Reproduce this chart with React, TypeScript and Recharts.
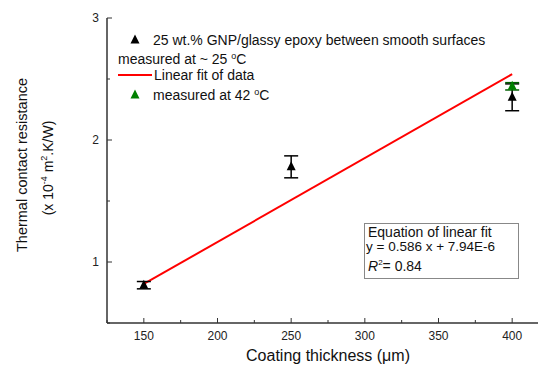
import {
  ComposedChart,
  ErrorBar,
  Line,
  Scatter,
  XAxis,
  YAxis,
} from "recharts";

const smooth25 = [
  { x: 150, y: 0.81, err: 0.03 },
  { x: 250, y: 1.78, err: 0.09 },
  { x: 400, y: 2.35, err: 0.11 },
];
const measured42 = [{ x: 400, y: 2.44, err: 0.03 }];
const fitLine = [
  { x: 150, y: 0.82 },
  { x: 400, y: 2.54 },
];

const xTicks = [125, 150, 175, 200, 225, 250, 275, 300, 325, 350, 375, 400, 425];
const xLabels = [150, 200, 250, 300, 350, 400];
const yTicks = [0.5, 1, 1.5, 2, 2.5, 3];
const yLabels = [1, 2, 3];

const FONT = "'Liberation Sans', Arial, sans-serif";
const AXIS = "#333";

const triangle = (color: string) => (props: any) => {
  const { cx, cy } = props;
  if (cx == null || cy == null) return <g />;
  return (
    <polygon
      points={`${cx},${cy - 5.5} ${cx - 4.5},${cy + 3.5} ${cx + 4.5},${cy + 3.5}`}
      fill={color}
    />
  );
};

const XTick = (props: any) => {
  const { x, y, payload } = props;
  const major = xLabels.includes(payload.value);
  return (
    <g>
      <line x1={x} x2={x} y1={y} y2={y - (major ? 5 : 3)} stroke={AXIS} />
      {major && (
        <text x={x} y={y + 17} textAnchor="middle" fontSize={12} fill="#222" fontFamily={FONT}>
          {payload.value}
        </text>
      )}
    </g>
  );
};

const YTick = (props: any) => {
  const { x, y, payload } = props;
  const major = yLabels.includes(payload.value);
  return (
    <g>
      <line x1={x} x2={x + (major ? 5 : 3)} y1={y} y2={y} stroke={AXIS} />
      {major && (
        <text x={x - 8} y={y + 4} textAnchor="end" fontSize={12} fill="#222" fontFamily={FONT}>
          {payload.value}
        </text>
      )}
    </g>
  );
};

export default function App() {
  return (
    <div
      style={{
        position: "absolute",
        left: 0,
        top: 0,
        width: 538,
        height: 367,
        overflow: "hidden",
        background: "#fff",
      }}
    >
      <ComposedChart
        width={560}
        height={367}
        margin={{ top: 18, right: 11, bottom: 0, left: 0 }}
      >
        <XAxis
          xAxisId="b"
          dataKey="x"
          type="number"
          domain={[125, 425]}
          ticks={xTicks}
          interval={0}
          tick={<XTick />}
          tickLine={false}
          tickSize={0}
          tickMargin={0}
          height={44}
          stroke={AXIS}
          strokeWidth={1.5}
        />
        <XAxis
          xAxisId="t"
          orientation="top"
          dataKey="x"
          type="number"
          domain={[125, 425]}
          tick={false}
          tickLine={false}
          height={0}
          stroke={AXIS}
          strokeWidth={1.5}
        />
        <YAxis
          yAxisId="l"
          type="number"
          domain={[0.5, 3]}
          ticks={yTicks}
          interval={0}
          tick={<YTick />}
          tickLine={false}
          tickSize={0}
          tickMargin={0}
          width={107}
          stroke={AXIS}
          strokeWidth={1.5}
        />
        <YAxis
          yAxisId="r"
          orientation="right"
          type="number"
          domain={[0.5, 3]}
          tick={false}
          tickLine={false}
          width={0}
          stroke={AXIS}
          strokeWidth={1.5}
        />
        <Line
          xAxisId="b"
          yAxisId="l"
          data={fitLine}
          dataKey="y"
          stroke="#ff0000"
          strokeWidth={2}
          dot={false}
          isAnimationActive={false}
        />
        <Scatter
          xAxisId="b"
          yAxisId="l"
          data={smooth25}
          dataKey="y"
          fill="#000"
          shape={triangle("#000")}
          isAnimationActive={false}
        >
          <ErrorBar dataKey="err" direction="y" width={7} stroke="#000" strokeWidth={1.5} />
        </Scatter>
        <Scatter
          xAxisId="b"
          yAxisId="l"
          data={measured42}
          dataKey="y"
          fill="#008000"
          shape={triangle("#008000")}
          isAnimationActive={false}
        >
          <ErrorBar dataKey="err" direction="y" width={7} stroke="#006000" strokeWidth={1.5} />
        </Scatter>
      </ComposedChart>

      <svg
        width={538}
        height={367}
        style={{ position: "absolute", left: 0, top: 0, pointerEvents: "none" }}
        fontFamily={FONT}
        fill="#111"
      >
        {/* legend */}
        <polygon points="135,34.5 130.5,43.5 139.5,43.5" fill="#000" />
        <text x={153} y={45} fontSize={14}>
          25 wt.% GNP/glassy epoxy between smooth surfaces
        </text>
        <text x={118} y={64} fontSize={14}>
          measured at ~ 25 <tspan fontSize={9} dy={-5}>o</tspan>
          <tspan dy={5}>C</tspan>
        </text>
        <line x1={118} x2={152} y1={75} y2={75} stroke="#ff0000" strokeWidth={2} />
        <text x={154} y={80} fontSize={14}>
          Linear fit of data
        </text>
        <polygon points="135,89.5 130.5,98.5 139.5,98.5" fill="#008000" />
        <text x={153} y={100} fontSize={14}>
          measured at 42 <tspan fontSize={9} dy={-5}>o</tspan>
          <tspan dy={5}>C</tspan>
        </text>

        {/* equation box */}
        <rect x={364.5} y={223.5} width={154} height={55} fill="#fff" stroke="#888" />
        <text x={368} y={237} fontSize={14}>
          Equation of linear fit
        </text>
        <text x={366} y={251} fontSize={13.5}>
          y = 0.586 x + 7.94E-6
        </text>
        <text x={368} y={271} fontSize={14}>
          <tspan fontStyle="italic">R</tspan>
          <tspan fontSize={8} dy={-6}>2</tspan>
          <tspan dy={6}>= 0.84</tspan>
        </text>

        {/* axis titles */}
        <text x={328} y={361} fontSize={16} textAnchor="middle">
          Coating thickness (μm)
        </text>
        <text
          x={0}
          y={0}
          fontSize={14.5}
          textAnchor="middle"
          transform="translate(27,165) rotate(-90)"
        >
          Thermal contact resistance
        </text>
        <text
          x={0}
          y={0}
          fontSize={14}
          textAnchor="middle"
          transform="translate(53,168) rotate(-90)"
        >
          (x 10<tspan fontSize={9} dy={-6}>-4</tspan>
          <tspan dy={6}> m</tspan>
          <tspan fontSize={9} dy={-6}>2</tspan>
          <tspan dy={6}>.K/W)</tspan>
        </text>
      </svg>
    </div>
  );
}
